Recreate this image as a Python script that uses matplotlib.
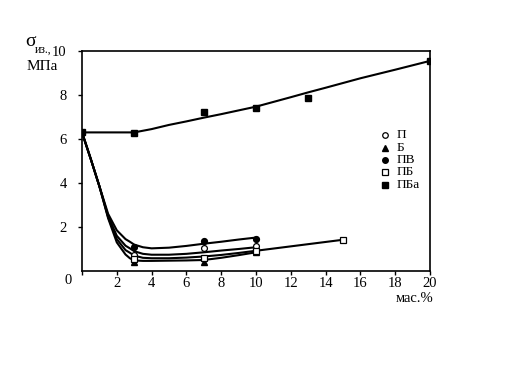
import matplotlib
matplotlib.use("Agg")
import matplotlib.pyplot as plt

plt.rcParams['font.family'] = ['Liberation Serif', 'DejaVu Serif']

# measured points (markers)
p_x = [3, 7, 10]
p_y = [0.72, 1.05, 1.15]
b_x = [3, 7, 10]
b_y = [0.43, 0.43, 0.85]
pv_x = [3, 7, 10]
pv_y = [1.1, 1.36, 1.45]
pb_x = [3, 7, 10, 15]
pb_y = [0.55, 0.6, 0.9, 1.41]
pba_x = [0, 3, 7, 10, 13, 20]
pba_y = [6.3, 6.28, 7.21, 7.39, 7.85, 9.55]

# fitted curves
drop_x = [0, 0.5, 1.0, 1.5]
pv_cx = drop_x + [2.0, 2.5, 2.75, 3, 3.5, 4, 5, 6, 7, 8, 9, 10]
pv_cy = [6.3, 5.1, 3.85, 2.6, 1.85, 1.45, 1.33, 1.2, 1.08, 1.03, 1.06, 1.14, 1.24, 1.33, 1.43, 1.52]
p_cx = drop_x + [2.0, 2.5, 2.75, 3, 3.5, 4, 5, 6, 7, 8, 9, 10]
p_cy = [6.3, 5.1, 3.85, 2.5, 1.6, 1.15, 1.03, 0.9, 0.78, 0.74, 0.74, 0.78, 0.85, 0.93, 1.0, 1.08]
pb_cx = drop_x + [2.0, 2.5, 2.75, 3, 3.5, 4, 5, 6, 7, 8, 9, 10, 12, 14, 15]
pb_cy = [6.3, 5.1, 3.85, 2.45, 1.45, 0.95, 0.83, 0.7, 0.6, 0.58, 0.58, 0.61, 0.66, 0.73, 0.82, 0.92, 1.12, 1.32, 1.42]
b_cx = drop_x + [2.0, 2.5, 2.75, 3, 3.5, 4, 5, 6, 7, 8, 9, 10]
b_cy = [6.3, 5.1, 3.85, 2.4, 1.3, 0.75, 0.58, 0.48, 0.46, 0.46, 0.47, 0.48, 0.5, 0.6, 0.72, 0.85]
pba_cx = [0, 3, 4, 5, 6, 7, 8, 10, 12, 13, 14, 16, 18, 20]
pba_cy = [6.3, 6.3, 6.45, 6.64, 6.8, 6.97, 7.13, 7.47, 7.9, 8.12, 8.33, 8.76, 9.15, 9.55]

fig = plt.figure(figsize=(5.28, 3.84), dpi=100)
ax = fig.add_axes([82/528, 1 - 271/384, 348/528, 220/384])

lw = 1.5
for cx, cy in [(pba_cx, pba_cy), (pv_cx, pv_cy), (p_cx, p_cy), (pb_cx, pb_cy), (b_cx, b_cy)]:
    ax.plot(cx, cy, color='black', lw=lw, zorder=2)

ms = 4.2
ax.plot(p_x, p_y, 'o', mfc='white', mec='black', mew=0.9, ms=ms, zorder=3)
ax.plot(b_x, b_y, '^', color='black', ms=ms + 0.5, zorder=3)
ax.plot(pv_x, pv_y, 'o', color='black', ms=ms, zorder=3)
ax.plot(pb_x, pb_y, 's', mfc='white', mec='black', mew=0.9, ms=ms, zorder=3)
ax.plot(pba_x, pba_y, 's', color='black', ms=ms, zorder=3)

ax.set_xlim(0, 20)
ax.set_ylim(0, 10)
ax.set_xticks(range(0, 21, 2))
ax.set_xticklabels([''] + [str(v) for v in range(2, 21, 2)])
ax.set_yticks(range(2, 11, 2))
ax.tick_params(axis='both', direction='out', length=3, width=1, labelsize=10.5, colors='black')
ax.tick_params(axis='y', pad=8)
ax.tick_params(axis='x', pad=1.5)
for s in ax.spines.values():
    s.set_linewidth(1.2)

# corner zero and axis titles
fig.text(68/528, 1 - 281/384, '0', ha='center', va='center', fontsize=10.5)
fig.text(25/528, 1 - 41/384, 'σ', ha='left', va='center', fontsize=14)
fig.text(35/528, 1 - 50/384, 'из.,', ha='left', va='center', fontsize=8.5)
fig.text(27/528, 1 - 66/384, 'МПа', ha='left', va='center', fontsize=11)
fig.text(433/528, 1 - 298/384, 'мас.%', ha='right', va='center', fontsize=10.5)

# legend drawn by hand
leg_names = ['П', 'Б', 'ПВ', 'ПБ', 'ПБа']
leg_y = [135, 148, 160, 172, 185]
leg_style = [dict(marker='o', mfc='white', mec='black', mew=0.9, ms=4),
             dict(marker='^', color='black', ms=5),
             dict(marker='o', color='black', ms=4),
             dict(marker='s', mfc='white', mec='black', mew=0.9, ms=4),
             dict(marker='s', color='black', ms=4)]
for name, yy, st in zip(leg_names, leg_y, leg_style):
    fig.lines.append(plt.Line2D([385/528], [1 - yy/384], transform=fig.transFigure, linestyle='none', **st))
    fig.text(397/528, 1 - yy/384, name, ha='left', va='center', fontsize=9.5)

fig.savefig('out.png', dpi=100)
